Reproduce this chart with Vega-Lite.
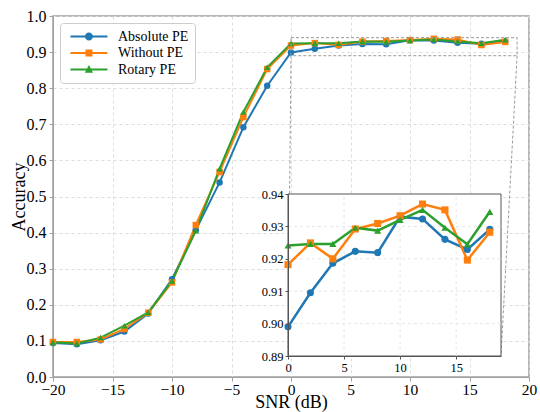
{
  "$schema": "https://vega.github.io/schema/vega-lite/v6.json",
  "width": 476,
  "height": 361,
  "autosize": {"type": "none"},
  "padding": {"left": 53, "top": 16, "right": 11, "bottom": 35},
  "background": "white",
  "config": {
    "font": "Liberation Serif",
    "view": {"stroke": "#a0a0a0", "strokeWidth": 1.5},
    "axis": {
      "labelFont": "Liberation Serif",
      "titleFont": "Liberation Serif",
      "labelFontWeight": "normal",
      "labelColor": "black",
      "titleColor": "black",
      "titleFontWeight": "normal",
      "domainColor": "#a0a0a0",
      "tickColor": "#a0a0a0",
      "gridColor": "#dcdcdc",
      "gridDash": [3, 3],
      "labelOverlap": false
    },
    "legend": {
      "labelFont": "Liberation Serif",
      "labelFontWeight": "normal"
    }
  },
  "datasets": {
    "pe": [
      {"snr": -20, "acc": 0.094, "model": "Absolute PE"},
      {"snr": -18, "acc": 0.091, "model": "Absolute PE"},
      {"snr": -16, "acc": 0.102, "model": "Absolute PE"},
      {"snr": -14, "acc": 0.126, "model": "Absolute PE"},
      {"snr": -12, "acc": 0.176, "model": "Absolute PE"},
      {"snr": -10, "acc": 0.271, "model": "Absolute PE"},
      {"snr": -8, "acc": 0.407, "model": "Absolute PE"},
      {"snr": -6, "acc": 0.539, "model": "Absolute PE"},
      {"snr": -4, "acc": 0.692, "model": "Absolute PE"},
      {"snr": -2, "acc": 0.807, "model": "Absolute PE"},
      {"snr": 0, "acc": 0.899, "model": "Absolute PE"},
      {"snr": 2, "acc": 0.9095, "model": "Absolute PE"},
      {"snr": 4, "acc": 0.9186, "model": "Absolute PE"},
      {"snr": 6, "acc": 0.9223, "model": "Absolute PE"},
      {"snr": 8, "acc": 0.9219, "model": "Absolute PE"},
      {"snr": 10, "acc": 0.933, "model": "Absolute PE"},
      {"snr": 12, "acc": 0.9323, "model": "Absolute PE"},
      {"snr": 14, "acc": 0.926, "model": "Absolute PE"},
      {"snr": 16, "acc": 0.9229, "model": "Absolute PE"},
      {"snr": 18, "acc": 0.9291, "model": "Absolute PE"},
      {"snr": -20, "acc": 0.097, "model": "Without PE"},
      {"snr": -18, "acc": 0.097, "model": "Without PE"},
      {"snr": -16, "acc": 0.104, "model": "Without PE"},
      {"snr": -14, "acc": 0.133, "model": "Without PE"},
      {"snr": -12, "acc": 0.178, "model": "Without PE"},
      {"snr": -10, "acc": 0.262, "model": "Without PE"},
      {"snr": -8, "acc": 0.421, "model": "Without PE"},
      {"snr": -6, "acc": 0.568, "model": "Without PE"},
      {"snr": -4, "acc": 0.72, "model": "Without PE"},
      {"snr": -2, "acc": 0.853, "model": "Without PE"},
      {"snr": 0, "acc": 0.9182, "model": "Without PE"},
      {"snr": 2, "acc": 0.9249, "model": "Without PE"},
      {"snr": 4, "acc": 0.92, "model": "Without PE"},
      {"snr": 6, "acc": 0.9292, "model": "Without PE"},
      {"snr": 8, "acc": 0.9309, "model": "Without PE"},
      {"snr": 10, "acc": 0.9333, "model": "Without PE"},
      {"snr": 12, "acc": 0.9369, "model": "Without PE"},
      {"snr": 14, "acc": 0.9351, "model": "Without PE"},
      {"snr": 16, "acc": 0.9196, "model": "Without PE"},
      {"snr": 18, "acc": 0.9282, "model": "Without PE"},
      {"snr": -20, "acc": 0.096, "model": "Rotary PE"},
      {"snr": -18, "acc": 0.093, "model": "Rotary PE"},
      {"snr": -16, "acc": 0.109, "model": "Rotary PE"},
      {"snr": -14, "acc": 0.142, "model": "Rotary PE"},
      {"snr": -12, "acc": 0.179, "model": "Rotary PE"},
      {"snr": -10, "acc": 0.266, "model": "Rotary PE"},
      {"snr": -8, "acc": 0.405, "model": "Rotary PE"},
      {"snr": -6, "acc": 0.577, "model": "Rotary PE"},
      {"snr": -4, "acc": 0.734, "model": "Rotary PE"},
      {"snr": -2, "acc": 0.858, "model": "Rotary PE"},
      {"snr": 0, "acc": 0.9241, "model": "Rotary PE"},
      {"snr": 2, "acc": 0.9246, "model": "Rotary PE"},
      {"snr": 4, "acc": 0.9246, "model": "Rotary PE"},
      {"snr": 6, "acc": 0.9296, "model": "Rotary PE"},
      {"snr": 8, "acc": 0.9287, "model": "Rotary PE"},
      {"snr": 10, "acc": 0.932, "model": "Rotary PE"},
      {"snr": 12, "acc": 0.9351, "model": "Rotary PE"},
      {"snr": 14, "acc": 0.9296, "model": "Rotary PE"},
      {"snr": 16, "acc": 0.9245, "model": "Rotary PE"},
      {"snr": 18, "acc": 0.9345, "model": "Rotary PE"}
    ],
    "box": [{"snr": 0, "snr2": 19, "acc": 0.89, "acc2": 0.94}],
    "links": [
      {"snr": 0, "acc": 0.89, "snr2": -0.252, "acc2": 0.0582},
      {"snr": 19, "acc": 0.89, "snr2": 17.647, "acc2": 0.0582}
    ],
    "igx": [
      {"snr": 5, "acc": 0.89, "acc2": 0.94},
      {"snr": 10, "acc": 0.89, "acc2": 0.94},
      {"snr": 15, "acc": 0.89, "acc2": 0.94}
    ],
    "igy": [
      {"acc": 0.9, "snr": 0, "snr2": 19},
      {"acc": 0.91, "snr": 0, "snr2": 19},
      {"acc": 0.92, "snr": 0, "snr2": 19},
      {"acc": 0.93, "snr": 0, "snr2": 19}
    ]
  },
  "layer": [
    {
      "encoding": {
        "x": {
          "field": "snr", "type": "quantitative",
          "scale": {"domain": [-20, 20], "nice": false, "zero": false},
          "axis": {
            "title": "SNR (dB)", "titleFontSize": 18, "titleFont": "Liberation Serif",
            "titleY": 30, "titleBaseline": "alphabetic",
            "values": [-20, -15, -10, -5, 0, 5, 10, 15, 20],
            "labelFont": "Liberation Serif", "labelFontSize": 15.5, "tickSize": 4, "labelPadding": 1,
            "grid": true, "labelFlush": false, "labelOverlap": false
          }
        },
        "y": {
          "field": "acc", "type": "quantitative",
          "scale": {"domain": [0, 1], "nice": false, "zero": false},
          "axis": {
            "title": "Accuracy", "titleFontSize": 18, "titleFont": "Liberation Serif", "titlePadding": -2,
            "values": [0, 0.1, 0.2, 0.3, 0.4, 0.5, 0.6, 0.7, 0.8, 0.9, 1.0],
            "format": ".1f", "labelFont": "Liberation Serif", "labelFontSize": 16, "tickSize": 4, "labelPadding": 3,
            "grid": true, "labelFlush": false, "labelOverlap": false
          }
        }
      },
      "layer": [
        {
          "data": {"name": "pe"},
          "mark": {"type": "line", "strokeWidth": 2},
          "encoding": {
            "color": {
              "field": "model", "type": "nominal",
              "scale": {"domain": ["Absolute PE", "Without PE", "Rotary PE"], "range": ["#1f77b4", "#ff7f0e", "#2ca02c"]},
              "legend": {
                "title": null, "orient": "top-left", "offset": 7,
                "labelFontSize": 14, "labelFont": "Liberation Serif", "labelFontWeight": "normal", "labelColor": "black",
                "fillColor": "white", "strokeColor": "#cccccc", "cornerRadius": 3,
                "padding": 6, "symbolSize": 200, "labelOffset": 37, "rowPadding": 1.5, "labelLimit": 300,
                "symbolStrokeWidth": 0, "symbolOpacity": 1,
                "symbolType": {"expr": "datum.value === 'Absolute PE' ? 'M-0.43,-0.14L4.8,-0.14L4.8,0.14L-0.43,0.14Z M2.755,0A0.57,0.57 0 1 1 1.615,0A0.57,0.57 0 1 1 2.755,0Z' : datum.value === 'Without PE' ? 'M-0.43,-0.14L4.8,-0.14L4.8,0.14L-0.43,0.14Z M1.69,-0.495L2.68,-0.495L2.68,0.495L1.69,0.495Z' : 'M-0.43,-0.14L4.8,-0.14L4.8,0.14L-0.43,0.14Z M2.185,-0.62L2.77,0.45L1.6,0.45Z'"}
              }
            }
          }
        },
        {
          "data": {"name": "pe"},
          "transform": [{"filter": "datum.model === 'Absolute PE'"}],
          "mark": {"type": "point", "shape": "circle", "filled": true, "opacity": 1, "size": 42},
          "encoding": {"color": {"field": "model", "type": "nominal"}}
        },
        {
          "data": {"name": "pe"},
          "transform": [{"filter": "datum.model === 'Without PE'"}],
          "mark": {"type": "point", "shape": "square", "filled": true, "opacity": 1, "size": 42},
          "encoding": {"color": {"field": "model", "type": "nominal"}}
        },
        {
          "data": {"name": "pe"},
          "transform": [{"filter": "datum.model === 'Rotary PE'"}],
          "mark": {"type": "point", "shape": "triangle-up", "filled": true, "opacity": 1, "size": 42},
          "encoding": {"color": {"field": "model", "type": "nominal"}}
        },
        {
          "data": {"name": "box"},
          "mark": {"type": "rect", "fill": null, "fillOpacity": 0, "stroke": "#9a9a9a", "strokeWidth": 1, "strokeDash": [3, 2]},
          "encoding": {"x2": {"field": "snr2"}, "y2": {"field": "acc2"}}
        },
        {
          "data": {"name": "links"},
          "mark": {"type": "rule", "stroke": "#9a9a9a", "strokeWidth": 1, "strokeDash": [3, 2]},
          "encoding": {"x2": {"field": "snr2"}, "y2": {"field": "acc2"}}
        }
      ]
    },
    {
      "encoding": {
        "x": {
          "field": "snr", "type": "quantitative",
          "scale": {"domain": [0, 19], "range": [235, 448], "nice": false, "zero": false},
          "axis": {
            "orient": "bottom", "offset": -21, "title": null, "values": [0, 5, 10, 15],
            "labelFont": "Liberation Serif", "labelFontSize": 12.5, "tickSize": 3, "labelPadding": 2, "grid": false,
            "domainColor": "#555555", "tickColor": "#555555", "zindex": 1, "labelFlush": false, "labelOverlap": false
          }
        },
        "y": {
          "field": "acc", "type": "quantitative",
          "scale": {"domain": [0.89, 0.94], "range": [340, 178], "nice": false, "zero": false},
          "axis": {
            "orient": "left", "offset": -235, "title": null,
            "values": [0.89, 0.9, 0.91, 0.92, 0.93, 0.94], "format": ".2f",
            "labelFont": "Liberation Serif", "labelFontSize": 12.5, "tickSize": 3, "labelPadding": 2, "grid": false,
            "domainColor": "#555555", "tickColor": "#555555", "zindex": 1, "labelFlush": false, "labelOverlap": false
          }
        }
      },
      "layer": [
        {
          "data": {"name": "box"},
          "mark": {"type": "rect", "fill": "white", "stroke": "#555555", "strokeWidth": 1},
          "encoding": {"x2": {"field": "snr2"}, "y2": {"field": "acc2"}}
        },
        {
          "data": {"name": "igx"},
          "mark": {"type": "rule", "stroke": "#e6e6e6", "strokeWidth": 1, "strokeDash": [3, 3]},
          "encoding": {"y2": {"field": "acc2"}}
        },
        {
          "data": {"name": "igy"},
          "mark": {"type": "rule", "stroke": "#e6e6e6", "strokeWidth": 1, "strokeDash": [3, 3]},
          "encoding": {"x2": {"field": "snr2"}}
        },
        {
          "data": {"name": "pe"},
          "transform": [{"filter": "datum.snr >= 0"}],
          "mark": {"type": "line", "strokeWidth": 2.5},
          "encoding": {"color": {"field": "model", "type": "nominal"}}
        },
        {
          "data": {"name": "pe"},
          "transform": [{"filter": "datum.snr >= 0 && datum.model === 'Absolute PE'"}],
          "mark": {"type": "point", "shape": "circle", "filled": true, "opacity": 1, "size": 50},
          "encoding": {"color": {"field": "model", "type": "nominal"}}
        },
        {
          "data": {"name": "pe"},
          "transform": [{"filter": "datum.snr >= 0 && datum.model === 'Without PE'"}],
          "mark": {"type": "point", "shape": "square", "filled": true, "opacity": 1, "size": 50},
          "encoding": {"color": {"field": "model", "type": "nominal"}}
        },
        {
          "data": {"name": "pe"},
          "transform": [{"filter": "datum.snr >= 0 && datum.model === 'Rotary PE'"}],
          "mark": {"type": "point", "shape": "triangle-up", "filled": true, "opacity": 1, "size": 50},
          "encoding": {"color": {"field": "model", "type": "nominal"}}
        }
      ]
    }
  ],
  "resolve": {
    "scale": {"x": "independent", "y": "independent"},
    "axis": {"x": "independent", "y": "independent"}
  }
}
